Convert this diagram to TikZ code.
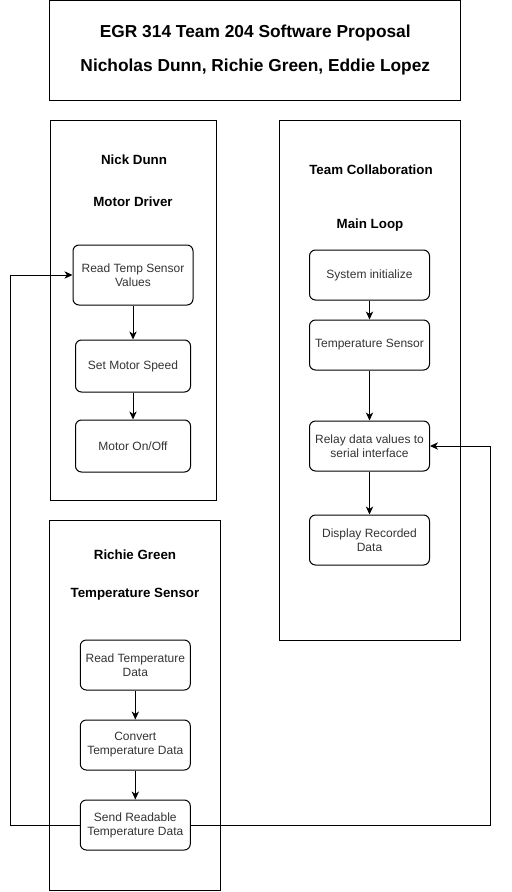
\documentclass[tikz,border=0pt]{standalone}
\usepackage{fontspec}
\setmainfont{Liberation Sans}
\usetikzlibrary{positioning, arrows.meta}

\begin{document}
\begin{tikzpicture}[x=0.75pt, y=-0.75pt, line width=0.75pt, >={Stealth[length=6pt, width=5.5pt, inset=1.8pt]},
  panel/.style={draw, inner sep=0pt},
  head/.style={font=\fontsize{10}{12}\selectfont\bfseries},
  stepbox/.style={draw, rounded corners=4.5pt, align=center, text=black!80, minimum width=90pt, minimum height=37.5pt, font=\fontsize{9}{10.5}\selectfont}]

\useasboundingbox (0,0) rectangle (511,892);

\node[panel, minimum width=308pt, minimum height=75pt, align=center, font=\fontsize{13}{25.5}\selectfont\bfseries] (title) at (255.3,50.5) {EGR 314 Team 204 Software Proposal\\Nicholas Dunn, Richie Green, Eddie Lopez};

\node[panel, minimum width=124.5pt, minimum height=285pt] (nickpanel) at (133,310) {};
\node[panel, minimum width=135.5pt, minimum height=390pt] (teampanel) at (370.3,380) {};
\node[panel, minimum width=128pt, minimum height=277.5pt] (richiepanel) at (135.3,705) {};

\node[head] (nickname) at (134,160) {Nick Dunn};
\node[head] (nickrole) at (133,202) {Motor Driver};
\node[head] (teamname) at (371,170) {Team Collaboration};
\node[head] (teamrole) at (370,225) {Main Loop};
\node[head] (richiename) at (135,555) {Richie Green};
\node[head] (richierole) at (135,594) {Temperature Sensor};

\node[stepbox, minimum height=45pt] (readtemp) at (133,275) {Read Temp Sensor\\Values};
\node[stepbox, minimum width=86.25pt, minimum height=39pt, below=25.5pt of readtemp] (motorspeed) {Set Motor Speed};
\node[stepbox, minimum width=86.25pt, minimum height=39pt, below=20.25pt of motorspeed] (motoronoff) {Motor On/Off};

\node[stepbox] (sysinit) at (369.5,275) {System initialize};
\node[stepbox, below=14.25pt of sysinit] (tempsensor) {Temperature Sensor};
\node[stepbox, below=37.5pt of tempsensor] (relay) {Relay data values to\\serial interface};
\node[stepbox, below=32.25pt of relay] (display) {Display Recorded\\Data};

\node[stepbox, minimum width=82.5pt] (readdata) at (135.3,665) {Read Temperature\\Data};
\node[stepbox, minimum width=82.5pt, below=21.75pt of readdata] (convert) {Convert\\Temperature Data};
\node[stepbox, minimum width=82.5pt, below=21.75pt of convert] (sendout) {Send Readable\\Temperature Data};

\coordinate (leftbus) at (10.3,0);
\coordinate (rightbus) at (490.3,0);

\draw[->] (readtemp) -- (motorspeed);
\draw[->] (motorspeed) -- (motoronoff);
\draw[->] (sysinit) -- (tempsensor);
\draw[->] (tempsensor) -- (relay);
\draw[->] (relay) -- (display);
\draw[->] (readdata) -- (convert);
\draw[->] (convert) -- (sendout);

\draw[->] (sendout.west) -- (sendout.west -| leftbus) |- (readtemp.west);
\draw[->] (sendout.east) -- (sendout.east -| rightbus) |- (relay.east);

\end{tikzpicture}
\end{document}
